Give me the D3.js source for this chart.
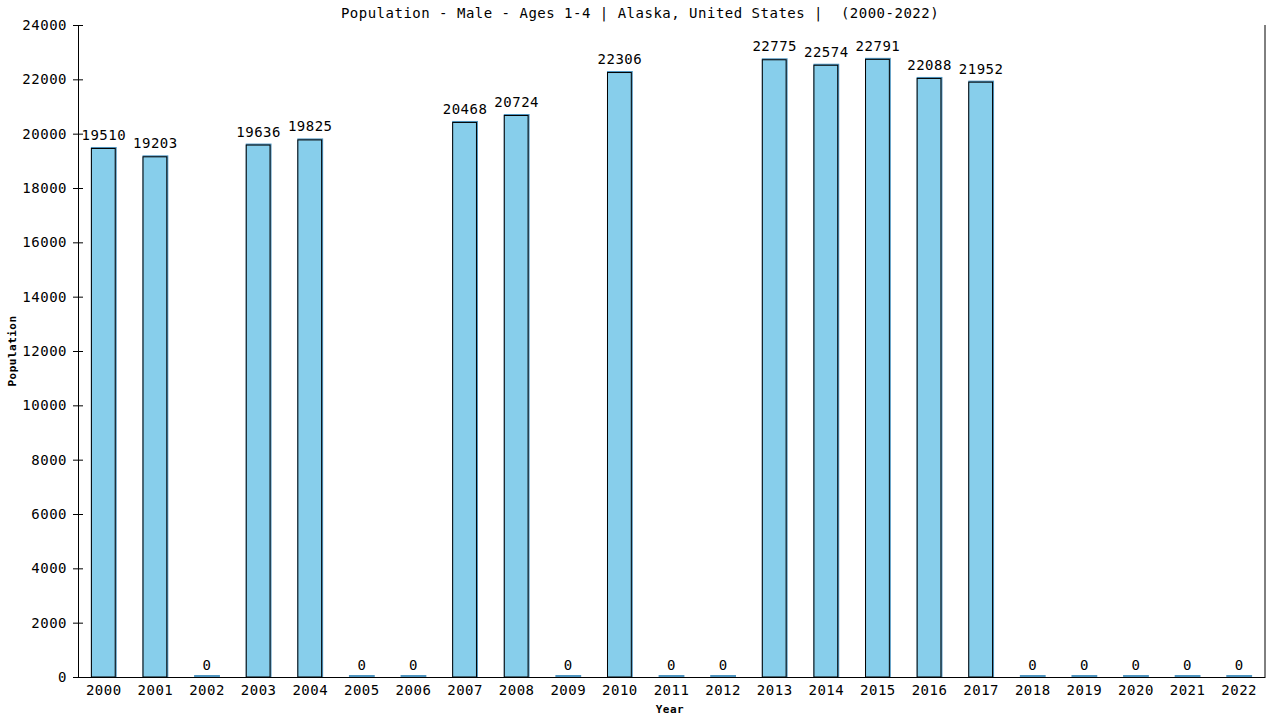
<!DOCTYPE html>
<html lang="en">
<head>
<meta charset="UTF-8">
<title>Population - Male - Ages 1-4 | Alaska</title>
<script src="https://d3js.org/d3.v7.min.js"></script>
<style>
  body { margin: 0; background: #fff; }
  text { font-family: "DejaVu Sans Mono", monospace; fill: #000; white-space: pre; }
</style>
</head>
<body>
<svg width="1280" height="720"></svg>
<script>
// chart data
const years = ["2000", "2001", "2002", "2003", "2004", "2005", "2006", "2007", "2008", "2009", "2010", "2011",
               "2012", "2013", "2014", "2015", "2016", "2017", "2018", "2019", "2020", "2021", "2022"];
const population = [19510, 19203, 0, 19636, 19825, 0, 0, 20468, 20724, 0, 22306, 0,
                    0, 22775, 22574, 22791, 22088, 21952, 0, 0, 0, 0, 0];
const yTicks = [0, 2000, 4000, 6000, 8000, 10000, 12000, 14000, 16000, 18000, 20000, 22000, 24000];

const svg = d3.select("svg");
const margin = { top: 25, right: 15, bottom: 43, left: 78 };
const width = 1280, height = 720;

const x = d3.scaleBand()
    .domain(years)
    .range([margin.left, width - margin.right])
    .paddingInner(0.5)
    .paddingOuter(0.25);

const y = d3.scaleLinear()
    .domain([0, 24000])
    .range([height - margin.bottom, margin.top]);

// title
svg.append("text")
    .attr("x", 640).attr("y", 18)
    .attr("text-anchor", "middle")
    .attr("font-size", 14)
    .attr("letter-spacing", 0.5)
    .text("Population - Male - Ages 1-4 | Alaska, United States |  (2000-2022)");

// y axis
const yAxis = svg.append("g")
    .attr("transform", `translate(${margin.left},0)`)
    .call(d3.axisLeft(y).tickValues(yTicks).tickFormat(d3.format("d")).tickSize(5).tickPadding(6).tickSizeOuter(0));
yAxis.select(".domain").attr("stroke", "#000");
yAxis.selectAll(".tick line").attr("x1", -5).attr("x2", 5).attr("stroke", "#000");
yAxis.selectAll(".tick text")
    .attr("font-family", "DejaVu Sans Mono, monospace")
    .attr("font-size", 14)
    .attr("letter-spacing", 0.5)
    .attr("x", -11)
    .attr("fill", "#000");

// x axis baseline, no ticks
const xAxis = svg.append("g")
    .attr("transform", `translate(0,${y(0)})`)
    .call(d3.axisBottom(x).tickSize(0).tickPadding(8));
xAxis.select(".domain").attr("stroke", "#000");
xAxis.selectAll(".tick text")
    .attr("font-family", "DejaVu Sans Mono, monospace")
    .attr("font-size", 14)
    .attr("letter-spacing", 0.5)
    .attr("fill", "#000");

// right border
svg.append("line")
    .attr("x1", width - margin.right).attr("x2", width - margin.right)
    .attr("y1", y(24000)).attr("y2", y(0))
    .attr("stroke", "#000");

// bars: blue backing + light fill with black outline
const bars = svg.append("g").selectAll("g")
    .data(population)
    .join("g");

bars.append("rect")
    .attr("x", (_, i) => x(years[i]))
    .attr("y", d => Math.min(y(d), y(0) - 2))
    .attr("width", x.bandwidth())
    .attr("height", d => Math.max(y(0) - y(d), 2))
    .attr("fill", "#4f95c0");

bars.each(function (d, i) {
    if (d <= 0) return;
    d3.select(this).append("rect")
        .attr("x", x(years[i]) + 0.5)
        .attr("y", y(d) + 1.5)
        .attr("width", x.bandwidth() - 2)
        .attr("height", y(0) - y(d) - 1.5)
        .attr("fill", "#87ceeb")
        .attr("stroke", "#000")
        .attr("stroke-width", 1);
});

// value labels
svg.append("g").selectAll("text")
    .data(population)
    .join("text")
    .attr("x", (_, i) => x(years[i]) + x.bandwidth() / 2)
    .attr("y", d => y(d) - 7)
    .attr("text-anchor", "middle")
    .attr("font-size", 14)
    .attr("letter-spacing", 0.5)
    .text(d => d);

// axis titles
svg.append("text")
    .attr("transform", `translate(16,${(y(0) + y(24000)) / 2}) rotate(-90)`)
    .attr("text-anchor", "middle")
    .attr("font-size", 11)
    .attr("font-weight", "bold")
    .attr("letter-spacing", 0.5)
    .text("Population");

svg.append("text")
    .attr("x", 670).attr("y", 713)
    .attr("text-anchor", "middle")
    .attr("font-size", 11)
    .attr("font-weight", "bold")
    .attr("letter-spacing", 0.5)
    .text("Year");
</script>
</body>
</html>
